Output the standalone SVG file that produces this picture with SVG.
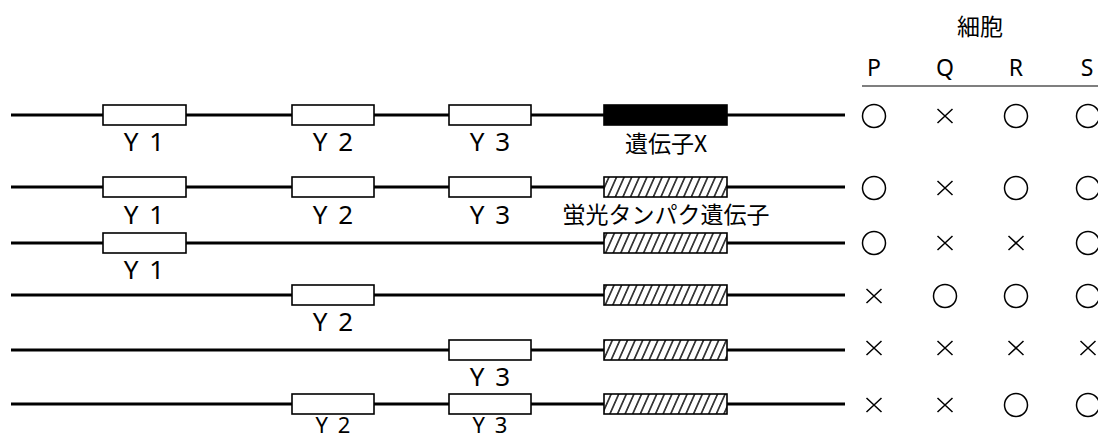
<svg xmlns="http://www.w3.org/2000/svg" xmlns:xlink="http://www.w3.org/1999/xlink" width="1098" height="439" viewBox="0 0 1098 439">
<style>
.dna{stroke:#000;stroke-width:3;fill:none}
.y{fill:#fff;stroke:#000;stroke-width:1.6}
.gx{fill:#000;stroke:#000;stroke-width:1.6}
.fp{fill:url(#hatch);stroke:#000;stroke-width:1.6}
.lb{font-family:"Noto Sans","Noto Sans CJK JP",sans-serif;font-size:26px;fill:#000;text-anchor:middle;letter-spacing:2px}
.lbs{font-size:22px}
.jp{font-family:"Noto Sans CJK JP",sans-serif;font-size:23px;fill:#000;text-anchor:middle}
.hd{font-family:"Noto Sans","Noto Sans CJK JP",sans-serif;font-size:23px;fill:#000;text-anchor:middle}
.sym{fill:none;stroke:#000;stroke-width:1.5}
</style>
<defs>
<pattern id="hatch" patternUnits="userSpaceOnUse" width="7.6" height="10" patternTransform="skewX(-24)">
<rect width="7.6" height="10" fill="#fff"/>
<line x1="3.8" y1="-1" x2="3.8" y2="11" stroke="#000" stroke-width="1.5"/>
</pattern>
<circle id="o" r="11.5" class="sym"/>
<path id="x" d="M-7.5,-7 L7.5,7 M7.5,-7 L-7.5,7" class="sym"/>
</defs>
<rect width="1098" height="439" fill="#fff"/>

<g id="header">
<text class="jp" x="980" y="35">細胞</text>
<text class="hd" x="874" y="76">P</text>
<text class="hd" x="945" y="76">Q</text>
<text class="hd" x="1016" y="76">R</text>
<text class="hd" x="1087" y="76">S</text>
<line x1="862" y1="86" x2="1098" y2="86" stroke="#000" stroke-width="1.2"/>
</g>

<g id="row1">
<line class="dna" x1="11" y1="115" x2="845" y2="115"/>
<rect class="y" x="103" y="105" width="83" height="20"/>
<rect class="y" x="292" y="105" width="82" height="20"/>
<rect class="y" x="449" y="105" width="82" height="20"/>
<rect class="gx" x="604" y="105" width="123" height="20"/>
<text class="lb" x="145" y="151">Y 1</text>
<text class="lb" x="334" y="151">Y 2</text>
<text class="lb" x="491" y="151">Y 3</text>
<text class="jp" x="666" y="152">遺伝子X</text>
<use xlink:href="#o" x="874" y="116"/><use xlink:href="#x" x="945" y="116"/><use xlink:href="#o" x="1016" y="116"/><use xlink:href="#o" x="1088" y="116"/>
</g>

<g id="row2">
<line class="dna" x1="11" y1="187" x2="845" y2="187"/>
<rect class="y" x="103" y="177" width="83" height="20"/>
<rect class="y" x="292" y="177" width="82" height="20"/>
<rect class="y" x="449" y="177" width="82" height="20"/>
<rect class="fp" x="604" y="177" width="123" height="20"/>
<text class="lb" x="145" y="224">Y 1</text>
<text class="lb" x="334" y="224">Y 2</text>
<text class="lb" x="491" y="224">Y 3</text>
<text class="jp" x="666" y="223">蛍光タンパク遺伝子</text>
<use xlink:href="#o" x="874" y="188"/><use xlink:href="#x" x="945" y="188"/><use xlink:href="#o" x="1016" y="188"/><use xlink:href="#o" x="1088" y="188"/>
</g>

<g id="row3">
<line class="dna" x1="11" y1="243" x2="845" y2="243"/>
<rect class="y" x="103" y="233" width="83" height="20"/>
<rect class="fp" x="604" y="233" width="123" height="20"/>
<text class="lb" x="145" y="279">Y 1</text>
<use xlink:href="#o" x="874" y="243"/><use xlink:href="#x" x="945" y="243"/><use xlink:href="#x" x="1016" y="243"/><use xlink:href="#o" x="1088" y="243"/>
</g>

<g id="row4">
<line class="dna" x1="11" y1="295" x2="845" y2="295"/>
<rect class="y" x="292" y="285" width="82" height="20"/>
<rect class="fp" x="604" y="285" width="123" height="20"/>
<text class="lb" x="334" y="331">Y 2</text>
<use xlink:href="#x" x="874" y="296"/><use xlink:href="#o" x="945" y="296"/><use xlink:href="#o" x="1016" y="296"/><use xlink:href="#o" x="1088" y="296"/>
</g>

<g id="row5">
<line class="dna" x1="11" y1="350" x2="845" y2="350"/>
<rect class="y" x="449" y="340" width="82" height="20"/>
<rect class="fp" x="604" y="340" width="123" height="20"/>
<text class="lb" x="491" y="386">Y 3</text>
<use xlink:href="#x" x="874" y="348"/><use xlink:href="#x" x="945" y="348"/><use xlink:href="#x" x="1016" y="348"/><use xlink:href="#x" x="1088" y="348"/>
</g>

<g id="row6">
<line class="dna" x1="11" y1="404" x2="845" y2="404"/>
<rect class="y" x="292" y="394" width="82" height="20"/>
<rect class="y" x="449" y="394" width="82" height="20"/>
<rect class="fp" x="604" y="394" width="123" height="20"/>
<text class="lb lbs" x="334" y="433">Y 2</text>
<text class="lb lbs" x="491" y="433">Y 3</text>
<use xlink:href="#x" x="874" y="405"/><use xlink:href="#x" x="945" y="405"/><use xlink:href="#o" x="1016" y="405"/><use xlink:href="#o" x="1088" y="405"/>
</g>
</svg>
